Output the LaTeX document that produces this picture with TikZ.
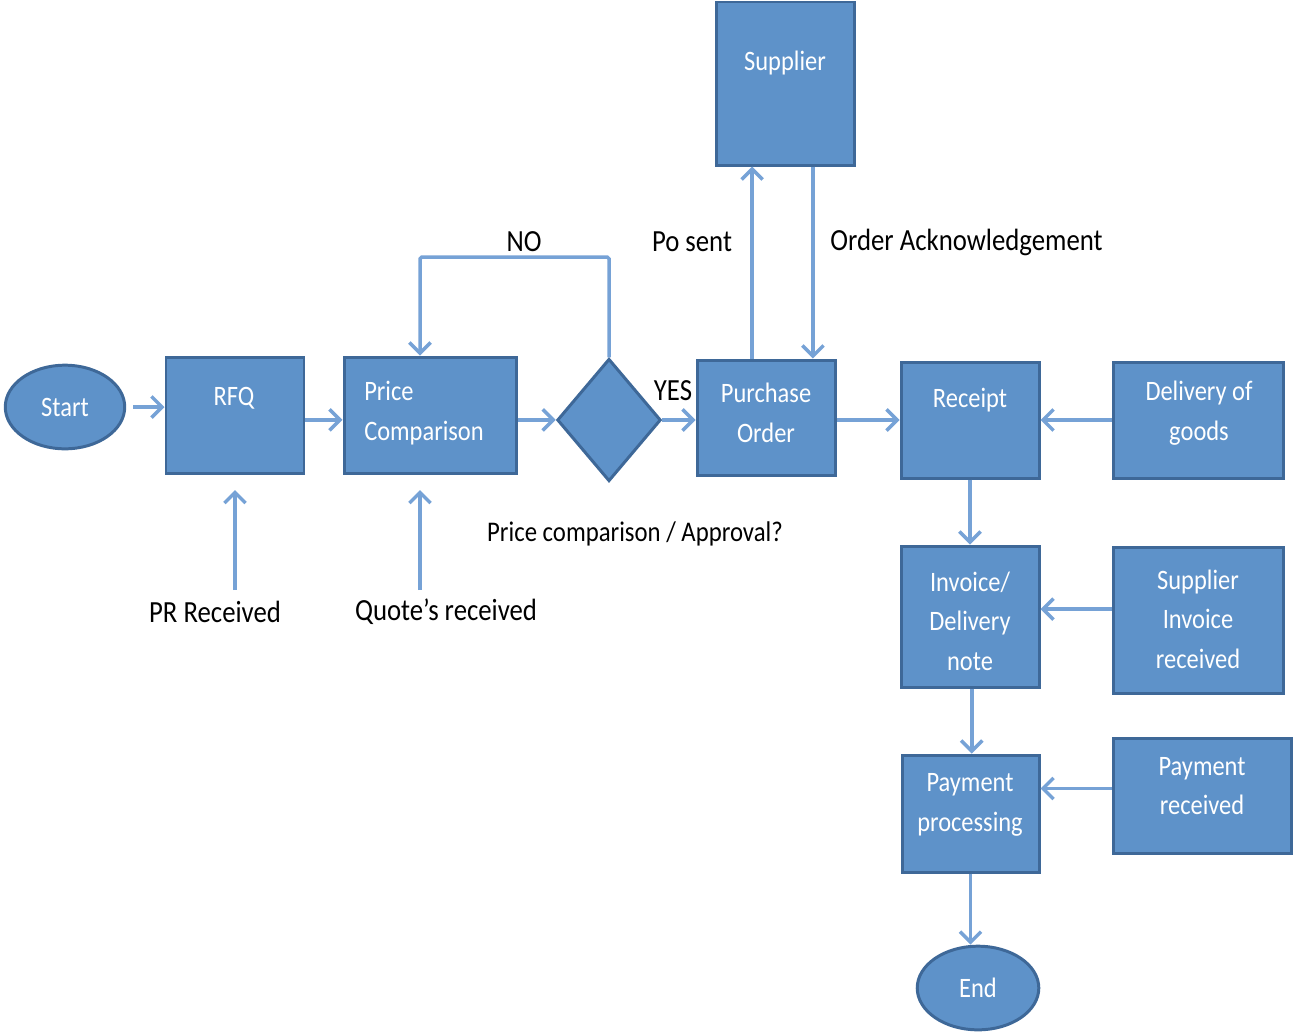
\documentclass[tikz,border=0pt]{standalone}
\usepackage{fontspec}
\setmainfont{Carlito}[FakeStretch=0.87]
\usetikzlibrary{arrows.meta,shapes.geometric,fit,calc}
\definecolor{boxfill}{RGB}{94,146,201}
\definecolor{boxline}{RGB}{62,104,152}
\definecolor{arrowc}{RGB}{118,162,214}
\begin{document}
\begin{tikzpicture}[x=0.02cm,y=-0.02cm,
  box/.style={draw=boxline,fill=boxfill,line width=1.7pt,inner sep=0pt},
  oval/.style={ellipse,draw=boxline,fill=boxfill,line width=1.7pt,inner sep=0pt,
    minimum width=68pt,minimum height=47.6pt,text=white,font=\fontsize{16}{22.5}\selectfont},
  dia/.style={diamond,draw=boxline,fill=boxfill,line width=1.7pt,inner sep=0pt,
    minimum width=59pt,minimum height=69.7pt},
  intext/.style={text=white,font=\fontsize{16}{22.5}\selectfont,align=center,inner sep=0pt},
  lab/.style={text=black,font=\fontsize{17.5}{21}\selectfont,inner sep=0pt},
  arr/.style={draw=arrowc,line width=2pt,
    -{Straight Barb[length=6pt,width=12pt,line width=2pt]}}]
\useasboundingbox (0,0) rectangle (1293,1032);
% boxes
\node[oval] (start) at (65,407) {Start};
\node[box,fit={(166,357)(304,473)}] (rfq) {};
\node[intext] (rfqT) at (234,398) {RFQ};
\node[box,fit={(344,357)(516,473)}] (price) {};
\node[intext,align=left] (priceT) at (424,413) {Price\\Comparison};
\node[dia] (dia) at (609,420) {};
\node[box,fit={(697,360)(835,475)}] (po) {};
\node[intext] (poT) at (766,413) {Purchase\\Order};
\node[box,fit={(716,2)(854,165)}] (sup) {};
\node[intext] (supT) at (785,63) {Supplier};
\node[box,fit={(901,362)(1039,478)}] (rec) {};
\node[intext] (recT) at (970,400) {Receipt};
\node[box,fit={(1113,362)(1283,478)}] (del) {};
\node[intext] (delT) at (1199,413) {Delivery of\\goods};
\node[box,fit={(901,546)(1039,687)}] (inv) {};
\node[intext] (invT) at (970,621) {Invoice/\\Delivery\\note};
\node[box,fit={(1113,547)(1283,693)}] (sinv) {};
\node[intext] (sinvT) at (1198,619) {Supplier\\Invoice\\received};
\node[box,fit={(902,755)(1039,872)}] (pp) {};
\node[intext] (ppT) at (970,805) {Payment\\processing};
\node[box,fit={(1113,738)(1291,853)}] (prec) {};
\node[intext] (precT) at (1202,786) {Payment\\received};
\node[oval,minimum width=69.2pt] (end) at (978,988) {End};
% labels
\node[lab] (noL) at (524,242) {NO};
\node[lab] (posL) at (692,242) {Po sent};
\node[lab,anchor=west] (ackL) at (830,242) {Order Acknowledgement};
\node[lab] (yesL) at (673,391) {YES};
\node[lab,font=\fontsize{16.2}{20}\selectfont] (pcL) at (635,534) {Price comparison / Approval?};
\node[lab] (prL) at (215,612) {PR Received};
\node[lab] (qL) at (446,612) {Quote’s received};
% coordinates
\coordinate (prTail) at (235,590);
\coordinate (prHead) at (235,490);
\coordinate (qTail) at (420,590);
\coordinate (qHead) at (420,490);
\coordinate (noC) at (611,257);
\coordinate (noD) at (420,257);
% connectors
\draw[arr,shorten <=4pt] (start.east) -- (start.east -| rfq.west);
\draw[arr] ([yshift=-2.8pt]rfq.east) -- ([yshift=-2.8pt]rfq.east -| price.west);
\draw[arr] ([yshift=-2.8pt]price.east) -- ([yshift=-2.8pt]price.east -| dia.west);
\draw[arr] (dia.east) -- (dia.east -| po.west);
\draw[arr] (po.east |- dia.east) -- (dia.east -| rec.west);
\draw[arr] (del.west) -- (del.west -| rec.east);
\draw[arr] (rec.south) -- (rec.south |- inv.north);
\draw[arr] ([yshift=6.2pt]sinv.west) -- ([yshift=6.2pt]sinv.west -| inv.east);
\draw[arr] ([xshift=1pt]inv.south) -- ([xshift=1pt]inv.south |- pp.north);
\draw[arr] ([yshift=4pt]prec.west) -- ([yshift=4pt]prec.west -| pp.east);
\draw[arr] (pp.south) -- (pp.south |- end.north);
\draw[arr] (prTail) -- (prHead);
\draw[arr] (qTail) -- (qHead);
\draw[arr,rounded corners=1pt] (dia.north) -- (dia.north |- noC) -- (noD) -- (noD |- price.north);
\draw[arr] ([xshift=-7.9pt]po.north) -- ([xshift=-7.9pt]po.north |- sup.south);
\draw[arr] ([xshift=15.9pt]sup.south) -- ([xshift=15.9pt]sup.south |- po.north);
\end{tikzpicture}
\end{document}
